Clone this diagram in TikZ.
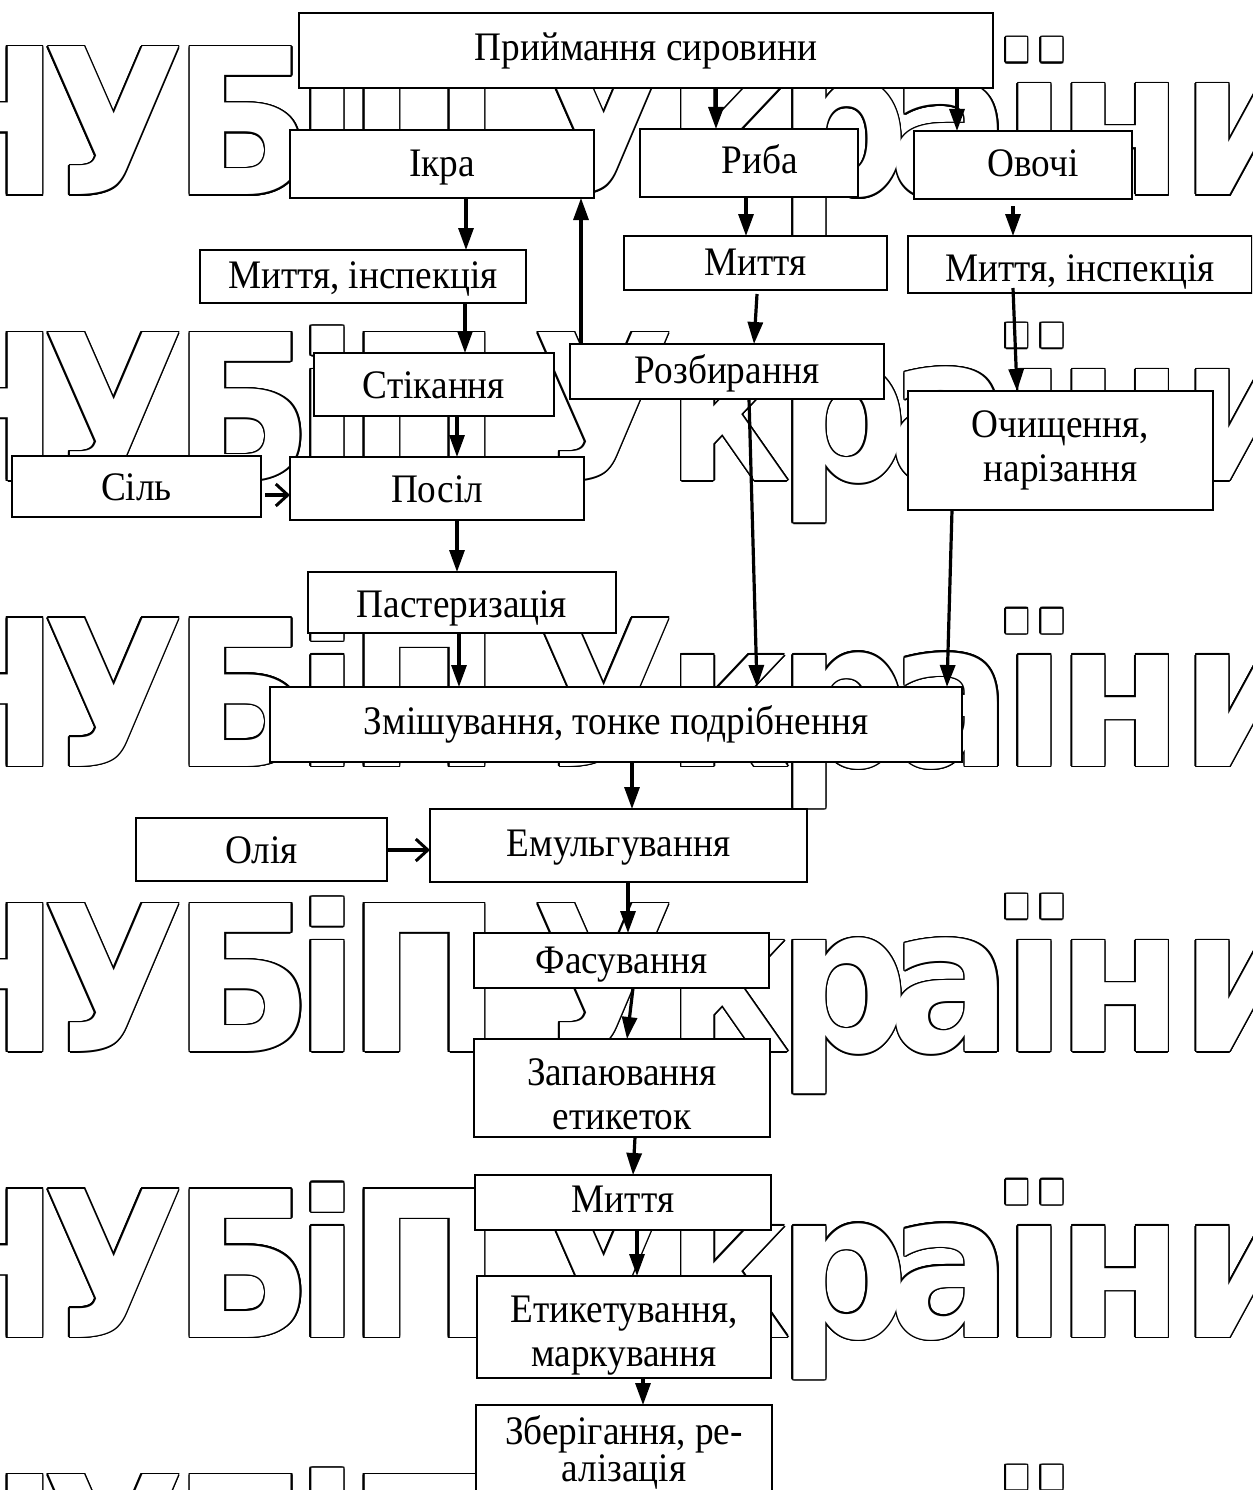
\documentclass[tikz,border=0pt]{standalone}
\usepackage{fontspec}
\setmainfont{Liberation Serif}[FakeStretch=0.92]
\newfontfamily\wmfont{DejaVu Sans}
\usetikzlibrary{arrows.meta,calc}
\newbox\wmrowbox
\newcommand\wmg[2]{\rlap{\hspace*{#1pt}\makebox[0pt]{\scalebox{0.9}[1]{#2}}}}
\begin{document}
\setbox\wmrowbox\hbox{\wmfont\bfseries\fontsize{203}{210}\selectfont
\wmg{-18}{Н}\wmg{113}{У}\wmg{243}{Б}\wmg{327}{і}\wmg{424}{П}\wmg{603}{У}\wmg{728}{к}\wmg{843}{р}\wmg{950}{а}\wmg{1034}{ї}\wmg{1120}{н}\wmg{1245}{и}}
\begin{tikzpicture}[x=1pt,y=-1pt,
  wm/.style={anchor=base west,inner sep=0pt,outer sep=0pt},
  box/.style={draw,line width=2.2pt,fill=white,inner sep=0pt,outer sep=0pt,align=center,
    font=\fontsize{40.5}{44}\selectfont},
  one/.style={box,text depth=8pt,text height=#1},
  arr/.style={line width=3.2pt,-{Triangle[length=22pt,width=15pt]}},
  oarr/.style={line width=3.2pt,-{Straight Barb[length=12pt,width=22pt,line width=3pt]}}]
\useasboundingbox (0,0) rectangle (1252,1490);
\clip (0,0) rectangle (1252,1490);
\fill[white] (0,0) rectangle (1252,1490);
% watermark
\foreach \b in {195,480.5,766,1051.5,1337,1622.5}{
  \foreach \a in {0,22.5,...,337.5}
    \node[wm,text=black] at ($(0,\b)+(\a:1.5pt)$) {\usebox\wmrowbox};
  \node[wm,text=white] at (0,\b) {\usebox\wmrowbox};
}
% boxes
\node[one=28pt,minimum width=694pt,minimum height=75pt] (A) at (646,50.5) {Приймання сировини};
\node[one=33pt,minimum width=304pt,minimum height=68pt] (B) at (442,164) {Ікра};
\node[one=29pt,minimum width=218pt,minimum height=68pt] (C) at (749,163) {\hspace*{22pt}Риба};
\node[one=31pt,minimum width=218pt,minimum height=68pt] (D) at (1023,165) {\hspace*{20pt}Овочі};
\node[one=32pt,minimum width=326pt,minimum height=53pt] (E) at (363,276.5) {Миття, інспекція};
\node[one=32pt,minimum width=263pt,minimum height=54pt] (F) at (755.5,263) {Миття};
\node[one=41pt,minimum width=344pt,minimum height=57pt] (G) at (1080,264.5) {Миття, інспекція};
\node[one=36pt,minimum width=240pt,minimum height=63pt] (H) at (434,384.5) {Стікання};
\node[one=32pt,minimum width=314pt,minimum height=55pt] (I) at (727,371.5) {Розбирання};
\node[box,minimum width=305pt,minimum height=119pt] (J) at (1060.5,450.5) {Очищення,\\нарізання};
\node[one=36pt,minimum width=249pt,minimum height=61pt] (K) at (136.5,486.5) {Сіль};
\node[one=36pt,minimum width=294pt,minimum height=63pt] (L) at (437,488.5) {Посіл};
\node[one=38pt,minimum width=308pt,minimum height=61pt] (M) at (462,602.5) {Пастеризація};
\node[one=28pt,minimum width=692pt,minimum height=75pt] (N) at (616,724.5) {Змішування, тонке подрібнення};
\node[one=36pt,minimum width=251pt,minimum height=63pt] (O) at (261.5,849.5) {Олія};
\node[one=30pt,minimum width=377pt,minimum height=73pt] (P) at (618.5,845.5) {Емульгування};
\node[one=34pt,minimum width=295pt,minimum height=55pt] (Q) at (621.5,960.5) {Фасування};
\node[box,minimum width=296pt,minimum height=98pt] (R) at (622,1088) {\rule{0pt}{40pt}Запаювання\\етикеток};
\node[one=28pt,minimum width=296pt,minimum height=55pt] (S) at (623,1202.5) {Миття};
\node[box,minimum width=294pt,minimum height=102pt] (T) at (624,1327) {\rule{0pt}{44pt}Етикетування,\\маркування};
\node[box,minimum width=296pt,minimum height=95pt,font=\fontsize{40.5}{33}\selectfont] (U) at (624,1452.5) {Зберігання, ре-\\алізація};
% arrows
\draw[arr] (716,0 |- A.south) -- (716,0 |- C.north);
\draw[arr] (957,0 |- A.south) -- (957,0 |- D.north);
\draw[arr] (466,0 |- B.south) -- (466,0 |- E.north);
\draw[arr] (465,0 |- E.south) -- (465,0 |- H.north);
\draw[arr] (457,0 |- H.south) -- (457,0 |- L.north);
\draw[oarr] ($(K.east |- 0,495)+(4,0)$) -- (L.west |- 0,495);
\draw[arr] (457,0 |- L.south) -- (457,0 |- M.north);
\draw[arr] (459,0 |- M.south) -- (459,0 |- N.north);
\draw[arr] (581,0 |- I.north) -- (581,0 |- B.south);
\draw[arr] (746,0 |- C.south) -- (746,0 |- F.north);
\draw[arr] ($(757,0 |- F.south)+(0,4)$) -- (754,0 |- I.north);
\draw[arr] (749,0 |- I.south) -- (757,0 |- N.north);
\draw[arr] ($(1013,0 |- D.south)+(0,7)$) -- (1013,0 |- G.north);
\draw[arr] ($(1013,0 |- G.south)+(0,-5)$) -- (1017,0 |- J.north);
\draw[arr] (952,0 |- J.south) -- (947,0 |- N.north);
\draw[arr] (632,0 |- N.south) -- (632,0 |- P.north);
\draw[oarr] (O.east |- 0,850) -- (P.west |- 0,850);
\draw[arr] (628,0 |- P.south) -- (628,0 |- Q.north);
\draw[arr] (633,0 |- Q.south) -- (627,0 |- R.north);
\draw[arr] (635,0 |- R.south) -- (633,0 |- S.north);
\draw[arr] (637,0 |- S.south) -- (637,0 |- T.north);
\draw[arr] (643,0 |- T.south) -- (643,0 |- U.north);
\end{tikzpicture}
\end{document}
